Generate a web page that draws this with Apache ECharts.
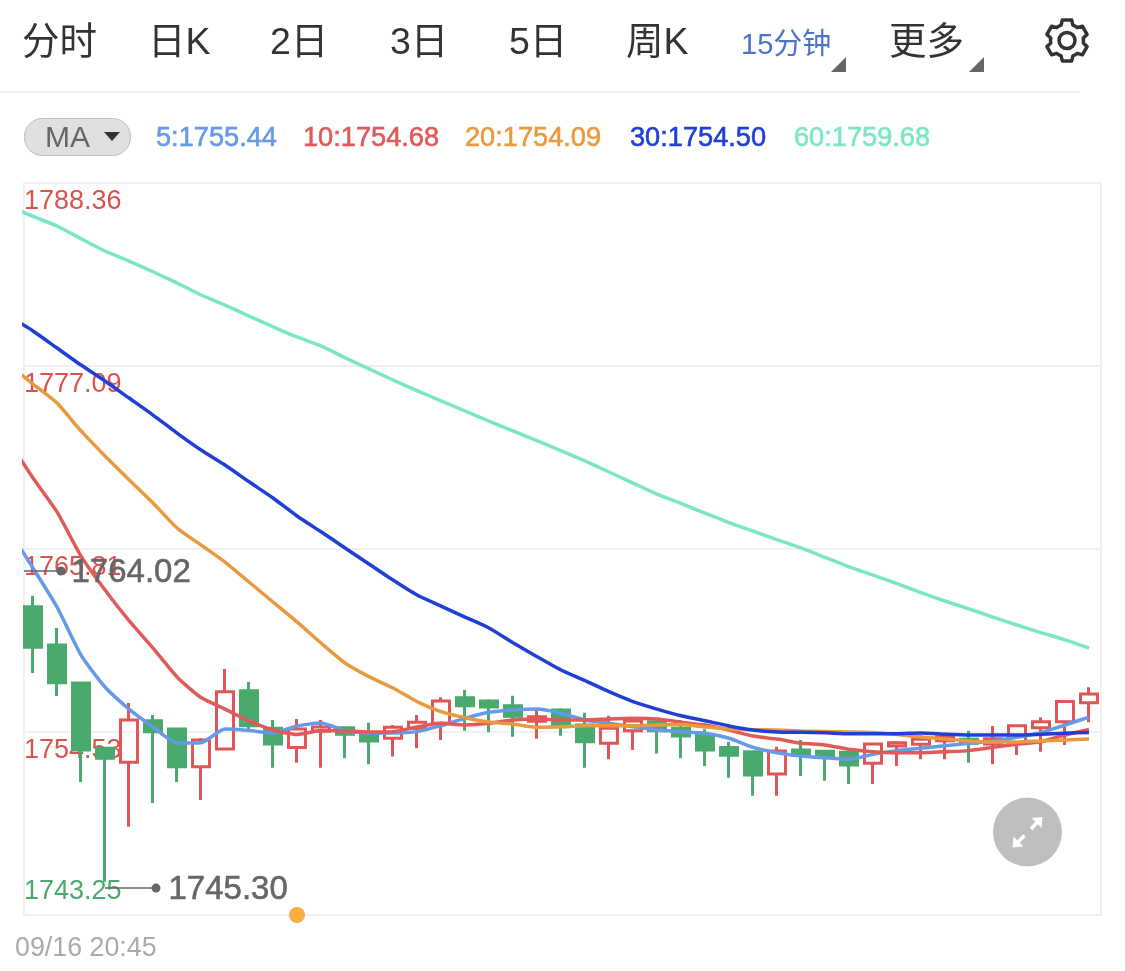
<!DOCTYPE html>
<html><head><meta charset="utf-8">
<style>html,body{margin:0;padding:0;background:#fff}#c{width:1125px;height:971px}</style>
<script src="https://cdn.jsdelivr.net/npm/echarts@6/dist/echarts.min.js"></script>
</head><body><div id="c"></div>
<script>
var tabLabels = ['分时','日K','2日','3日','5日','周K','15分钟','更多'];
var maLabels = ['5:1755.44','10:1754.68','20:1754.09','30:1754.50','60:1759.68'];
var tickValues = [1743.25,1754.53,1765.81,1777.09,1788.36];
var tickLabels = ['1743.25','1754.53','1765.81','1777.09','1788.36'];
var timeLabel = '09/16 20:45';
var highLabel = '1764.02', lowLabel = '1745.30';

var opens = [1762.25,1759.89,1757.55,1753.52,1752.66,1755.22,1754.71,1752.39,1753.48,1757.07,1754.76,1753.58,1754.57,1754.79,1754.48,1754.14,1754.76,1755.06,1756.64,1756.44,1756.15,1755.19,1755.88,1754.96,1753.83,1754.61,1755.16,1754.76,1754.36,1753.58,1753.31,1751.94,1753.42,1753.34,1753.28,1752.60,1753.66,1753.77,1753.99,1754.08,1753.79,1753.83,1754.79,1755.16,1756.33];
var closes = [1759.75,1757.57,1753.42,1752.91,1755.27,1754.55,1752.39,1754.03,1757.01,1754.92,1753.79,1754.71,1754.84,1754.39,1753.97,1754.82,1755.13,1756.44,1756.15,1756.07,1755.50,1755.47,1754.85,1753.93,1754.76,1755.21,1754.61,1754.28,1753.42,1753.09,1751.88,1753.36,1753.09,1753.05,1752.49,1753.79,1753.87,1754.08,1754.24,1753.83,1754.11,1754.92,1755.16,1756.40,1756.87];
var lows = [1758.16,1756.75,1751.45,1745.30,1748.69,1750.15,1751.45,1750.34,1753.48,1754.53,1752.33,1752.64,1752.33,1752.91,1752.54,1753.01,1753.52,1754.03,1754.61,1754.51,1754.24,1754.11,1754.30,1752.33,1752.85,1753.42,1753.21,1752.91,1752.43,1751.71,1750.60,1750.60,1751.82,1751.53,1751.32,1751.32,1752.43,1752.85,1752.85,1752.64,1752.54,1753.11,1753.31,1753.73,1755.13];
var highs = [1762.93,1760.94,1757.63,1753.54,1756.31,1755.58,1754.77,1754.16,1758.41,1757.61,1755.27,1755.33,1755.27,1754.85,1755.10,1754.96,1755.58,1756.67,1757.12,1756.54,1756.76,1755.88,1755.99,1755.72,1755.53,1755.37,1755.21,1755.27,1754.69,1753.93,1753.38,1753.62,1754.03,1753.36,1753.31,1753.83,1753.97,1754.34,1754.48,1754.61,1754.90,1754.96,1755.43,1756.40,1757.28];

// moving averages start one bar before the first visible candle
var ma5 = [1766.98,1764.63,1762.23,1759.27,1757.30,1755.94,1754.84,1753.85,1753.87,1754.71,1754.62,1754.47,1754.90,1755.08,1754.61,1754.47,1754.47,1754.55,1754.92,1755.37,1755.74,1755.88,1755.94,1755.68,1755.27,1755.06,1754.85,1754.65,1754.55,1754.45,1754.14,1753.58,1753.25,1753.05,1752.94,1752.85,1753.15,1753.38,1753.52,1753.68,1753.83,1753.97,1754.20,1754.48,1754.96,1755.44];
var ma10 = [1772.46,1770.18,1768.09,1765.37,1763.28,1761.39,1759.70,1757.92,1756.65,1755.94,1755.21,1754.65,1754.37,1754.62,1754.59,1754.53,1754.55,1754.84,1755.06,1754.96,1755.06,1755.27,1755.33,1755.27,1755.27,1755.33,1755.37,1755.33,1755.13,1754.96,1754.65,1754.28,1754.09,1753.83,1753.73,1753.46,1753.31,1753.25,1753.25,1753.31,1753.38,1753.58,1753.77,1753.93,1754.34,1754.68];
var ma20 = [1777.14,1775.97,1774.80,1773.08,1771.54,1770.08,1768.64,1767.10,1766.05,1765.00,1763.77,1762.54,1761.31,1760.01,1758.78,1757.94,1757.24,1756.40,1755.78,1755.41,1755.14,1755.02,1754.82,1754.85,1754.92,1754.92,1754.92,1754.96,1754.99,1754.84,1754.71,1754.68,1754.65,1754.59,1754.56,1754.53,1754.50,1754.37,1754.22,1754.10,1753.97,1753.91,1753.91,1753.97,1754.03,1754.09];
var ma30 = [1780.16,1779.24,1778.19,1777.14,1776.16,1775.11,1774.06,1772.95,1771.91,1770.98,1769.95,1768.95,1767.84,1766.87,1765.87,1764.88,1763.89,1762.97,1762.29,1761.61,1760.94,1760.03,1759.17,1758.35,1757.69,1757.01,1756.40,1755.94,1755.53,1755.22,1754.90,1754.65,1754.53,1754.51,1754.48,1754.42,1754.42,1754.42,1754.47,1754.39,1754.34,1754.34,1754.34,1754.39,1754.45,1754.50];
var ma60 = [1786.91,1786.30,1785.71,1784.93,1784.17,1783.55,1782.89,1782.20,1781.46,1780.84,1780.16,1779.50,1778.87,1778.32,1777.59,1776.90,1776.22,1775.56,1774.94,1774.31,1773.69,1773.08,1772.48,1771.86,1771.23,1770.55,1769.87,1769.19,1768.61,1768.02,1767.43,1766.91,1766.38,1765.87,1765.29,1764.71,1764.20,1763.67,1763.12,1762.60,1762.11,1761.61,1761.12,1760.65,1760.20,1759.70];

var highLeader = [[-0.375,1764.45],[1.167,1764.45]];
var lowLeader = [[3,1744.91],[5.125,1744.91]];
var orangeDot = [[11,1743.25]];

var maColors = ['#6699e8','#e05a5a','#e99a3f','#1f3fd6','#7be6c6'];
var RED = '#e05555', GREEN = '#4aa96c', SANS = '"Liberation Sans",Arial,sans-serif', CJK = '"Liberation Sans","Noto Sans CJK SC",sans-serif';

function lineSeries(vals, color, name){
  return {name:name,type:'line',symbol:'none',silent:true,animation:false,clip:true,smooth:0.2,
    lineStyle:{width:3.5,color:color},itemStyle:{color:color},
    data:vals.map(function(v,i){return [i-1,v];})};
}
function leaderSeries(pts, text, off){
  return {type:'line',silent:true,animation:false,clip:false,z:5,symbol:'none',
    lineStyle:{width:1.5,color:'#666'},itemStyle:{color:'#666'},
    data:[{value:pts[0],symbol:'none'},
      {value:pts[1],symbol:'circle',symbolSize:9,
       label:{show:true,position:'right',distance:6,offset:off,formatter:text,fontFamily:SANS,fontSize:33,color:'#666',textBorderColor:'#666',textBorderWidth:0.6}}]};
}
var candles = opens.map(function(o,i){return [i,o,closes[i],lows[i],highs[i]];});

// header graphics
var g = [];
function txt(x,y,text,size,color,font,weight,sw){
  var s = {x:x,y:y,text:text,fill:color,font:(weight||'')+' '+size+'px '+font,verticalAlign:'middle',textAlign:'left'};
  if(sw){s.stroke=color;s.lineWidth=sw;}
  g.push({type:'text',silent:true,style:s});
}
var tabX = [22,148,270,390,509,626,741,889];
tabLabels.forEach(function(t,i){
  if(i===6) txt(tabX[i],46,t,29,'#4a74c9',CJK);
  else txt(tabX[i],44,t,37.5,'#333',CJK,'400');
});
[[831,846],[969,984]].forEach(function(p){
  g.push({type:'polygon',silent:true,shape:{points:[[p[0],72],[p[1],72],[p[1],57]]},style:{fill:'#666'}});
});
// gear
(function(){
  var pts=[],cx=1067,cy=40.5;
  for(var k=0;k<6;k++){
    var a=-90+60*k;
    [[16.5,-30],[16.5,-21],[21,-13],[21,13],[16.5,21]].forEach(function(q){
      var r=(a+q[1])*Math.PI/180; pts.push([cx+q[0]*Math.cos(r),cy+q[0]*Math.sin(r)]);
    });
  }
  g.push({type:'polygon',silent:true,shape:{points:pts},style:{fill:'none',stroke:'#333',lineWidth:3.5,lineJoin:'round'}});
  g.push({type:'circle',silent:true,shape:{cx:cx,cy:cy,r:8},style:{fill:'none',stroke:'#333',lineWidth:3.5}});
})();
g.push({type:'rect',silent:true,shape:{x:0,y:91,width:1080,height:2},style:{fill:'#f0f0f0'}});
g.push({type:'rect',silent:true,shape:{x:24.5,y:118.5,width:106,height:37,r:18},style:{fill:'#e0e0e0',stroke:'#bdbdbd',lineWidth:1}});
txt(45,139,'MA',30,'#666',SANS);
g.push({type:'polygon',silent:true,shape:{points:[[104,132],[120,132],[112,141]]},style:{fill:'#333'}});
var maX = [156,303,465,630,794];
maLabels.forEach(function(t,i){ txt(maX[i],139,t,27.2,maColors[i],SANS,'',0.6); });
txt(15,949,timeLabel,26.8,'#aaa',SANS);
// expand button
g.push({type:'circle',silent:true,z:20,shape:{cx:1027.5,cy:832,r:34.5},style:{fill:'#bfbfbf'}});
function arrow(tip,tail,dx,dy){
  g.push({type:'polygon',silent:true,z:21,shape:{points:[tip,[tip[0]+dx*11,tip[1]+dy*1],[tip[0]+dx*1,tip[1]+dy*11]]},style:{fill:'#fff'}});
  g.push({type:'line',silent:true,z:21,shape:{x1:tip[0]+dx*5,y1:tip[1]+dy*5,x2:tail[0],y2:tail[1]},style:{stroke:'#fff',lineWidth:3.5}});
}
arrow([1042.5,817],[1031,829],-1,1);
arrow([1012.5,847.5],[1024.5,835.5],1,-1);

var series = [
  lineSeries(ma5,maColors[0],'MA5'),
  lineSeries(ma10,maColors[1],'MA10'),
  lineSeries(ma20,maColors[2],'MA20'),
  lineSeries(ma30,maColors[3],'MA30'),
  lineSeries(ma60,maColors[4],'MA60'),
  {type:'candlestick',silent:true,animation:false,barWidth:18,encode:{x:0,y:[1,2,3,4]},
   itemStyle:{color:'transparent',color0:GREEN,borderColor:RED,borderColor0:GREEN,borderWidth:3},
   data:candles},
  leaderSeries(highLeader,highLabel,[0,2]),
  leaderSeries(lowLeader,lowLabel,[2,2]),
  {type:'scatter',silent:true,animation:false,clip:false,z:6,symbolSize:16,itemStyle:{color:'#f5b041',opacity:1},data:orangeDot}
];

var chart = echarts.init(document.getElementById('c'),null,{renderer:'canvas'});
chart.setOption({
  animation:false,backgroundColor:'#fff',
  grid:{left:24,right:24,top:183,bottom:56,show:true,borderColor:'#f0f0f0',borderWidth:2,backgroundColor:'transparent'},
  xAxis:{type:'value',min:-0.375,max:44.5,show:false,splitLine:{show:false}},
  yAxis:{type:'value',min:1743.25,max:1788.36,scale:true,
    axisLine:{show:false},
    axisTick:{show:false,customValues:tickValues},
    splitLine:{show:true,lineStyle:{color:'#f0f0f0',width:2}},
    axisLabel:{inside:true,margin:0,customValues:tickValues,verticalAlign:'top',verticalAlignMinLabel:'bottom',
      formatter:function(v){var i=tickValues.indexOf(v);var t=i>=0?tickLabels[i]:v.toFixed(2);return i===0?'{g|'+t+'}':'{r|'+t+'}';},
      rich:{r:{fontFamily:SANS,fontSize:27,color:'#d9534f',lineHeight:38},
            g:{fontFamily:SANS,fontSize:27,color:'#4aa96c',lineHeight:34,padding:[0,0,12,0]}}}},
  graphic:g,
  series:series
});
</script></body></html>
